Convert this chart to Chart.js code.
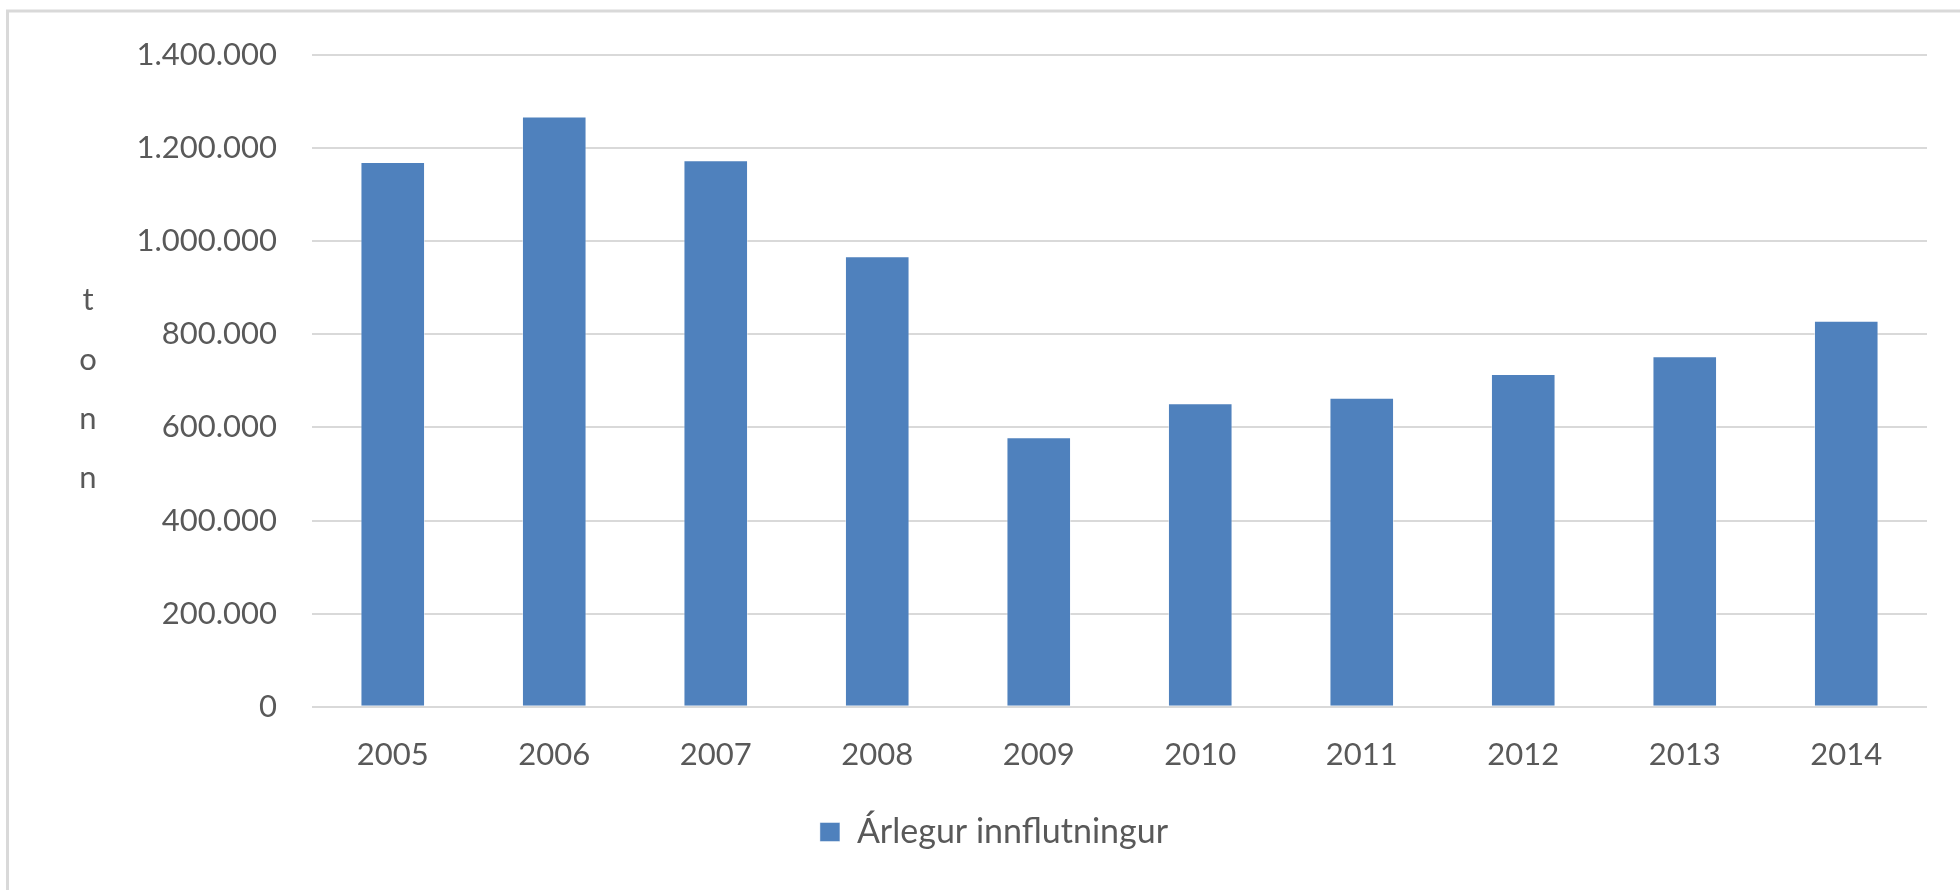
<!DOCTYPE html>
<html>
<head>
<meta charset="utf-8">
<script src="https://cdn.jsdelivr.net/npm/chart.js@4.4.1/dist/chart.umd.min.js"></script>
<style>
  html, body { margin:0; padding:0; background:#fff; }
  #wrap { position:relative; width:1960px; height:890px; }
</style>
</head>
<body>
<div id="wrap"><canvas id="graf" width="1960" height="890"></canvas></div>
<script>
const ar = ['2005','2006','2007','2008','2009','2010','2011','2012','2013','2014'];
const innflutningur = [1170000, 1268000, 1174000, 968000, 579000, 652000, 664000, 715000, 753000, 829000];
const yMerki = [0, 200000, 400000, 600000, 800000, 1000000, 1200000, 1400000];
const asTitill = ['t','o','n','n'];
const heitiRadar = 'Árlegur innflutningur';

const LETUR = 'Lato, "Noto Sans", sans-serif';
const GRATT = '#595959';

/* punktur sem þúsundaskil (1.400.000) */
const fmt = v => String(v).replace(/\B(?=(\d{3})+(?!\d))/g, '.');

/* rammi + lóðréttur ásatitill (t / o / n / n) */
const auka = {
  id: 'auka',
  beforeDraw(c){
    const ctx = c.ctx;
    ctx.save();
    ctx.strokeStyle = '#d9d9d9'; ctx.lineWidth = 3;
    ctx.beginPath();
    ctx.moveTo(7.5, 890); ctx.lineTo(7.5, 11); ctx.lineTo(1960, 11);
    ctx.stroke();
    ctx.restore();
  },
  afterDraw(c){
    const ctx = c.ctx, a = c.chartArea;
    const mid = (a.top + a.bottom) / 2;
    ctx.save();
    ctx.fillStyle = GRATT; ctx.font = '31px ' + LETUR;
    ctx.textAlign = 'center'; ctx.textBaseline = 'alphabetic';
    asTitill.forEach((s, i) => ctx.fillText(s, 88, mid + 18.5 + (i - 1.5) * 59.3));
    ctx.restore();
  }
};

new Chart(document.getElementById('graf'), {
  type: 'bar',
  data: { labels: ar, datasets: [
    { label: heitiRadar, data: innflutningur, backgroundColor: '#4f81bd',
      borderColor: 'rgba(255,255,255,0.45)', borderWidth: 1,
      barPercentage: 0.4, categoryPercentage: 1 }
  ]},
  options: {
    responsive: false, animation: false,
    /* vinstri > hægri svo skýringin lendi á sama stað og í frumriti */
    layout: { padding: { left: 61, right: 33, top: 55, bottom: 31 } },
    plugins: {
      tooltip: { enabled: false },
      legend: { position: 'bottom',
        labels: { boxWidth: 20, boxHeight: 19, padding: 11, color: GRATT, font: { family: LETUR, size: 34 } } }
    },
    scales: {
      x: { grid: { display: false, drawTicks: false }, border: { display: false },
        ticks: { color: GRATT, padding: 30, font: { family: LETUR, size: 31 } } },
      y: { min: 0, max: 1400000,
        afterBuildTicks: s => { s.ticks = yMerki.map(v => ({ value: v })); },
        afterFit: s => { s.width = 251; },
        grid: { color: '#d9d9d9', lineWidth: 2, drawTicks: false }, border: { display: false },
        ticks: { color: GRATT, padding: 35, font: { family: LETUR, size: 31 }, callback: v => fmt(v) } }
    }
  },
  plugins: [auka]
});
</script>
</body>
</html>
